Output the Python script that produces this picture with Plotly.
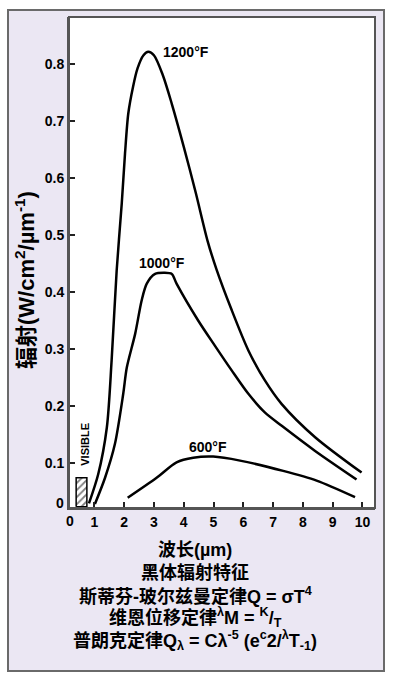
import plotly.graph_objects as go

# Data
x_1200 = [0.82, 1.13, 1.42, 1.58, 1.75, 1.92, 2.03, 2.14, 2.3, 2.45, 2.65, 2.81, 3.0, 3.3, 3.6, 4.0, 4.4, 4.8, 5.1, 5.6, 6.17, 6.73, 7.29, 8.41, 9.97]
y_1200 = [0.03, 0.081, 0.163, 0.28, 0.438, 0.555, 0.643, 0.713, 0.76, 0.792, 0.815, 0.821, 0.815, 0.78, 0.73, 0.655, 0.575, 0.49, 0.44, 0.37, 0.298, 0.245, 0.204, 0.146, 0.084]

x_1000 = [1.02, 1.36, 1.69, 1.97, 2.09, 2.37, 2.59, 2.76, 3.04, 3.35, 3.6, 3.76, 4.49, 5.05, 5.61, 6.17, 6.73, 7.29, 8.41, 9.8]
y_1000 = [0.029, 0.075, 0.134, 0.222, 0.268, 0.327, 0.386, 0.415, 0.432, 0.434, 0.432, 0.415, 0.35, 0.306, 0.263, 0.222, 0.189, 0.166, 0.122, 0.072]

x_600 = [2.12, 3.09, 3.76, 4.32, 4.99, 5.89, 7.34, 8.46, 9.75]
y_600 = [0.040, 0.075, 0.102, 0.110, 0.112, 0.105, 0.087, 0.070, 0.041]

curve_labels = ["1200°F", "1000°F", "600°F"]
label_x = [4.08, 3.26, 4.82]
label_y = [0.821, 0.451, 0.128]

visible_x = [0.39, 0.75]
visible_y = [0.024, 0.075]

x_tickvals = [1, 2, 3, 4, 5, 6, 7, 8, 9, 10]
x_ticktext = ["1", "2", "3", "4", "5", "6", "7", "8", "9", "10"]
x_zero_label = ("0", 0.2)
y_tickvals = [0.1, 0.2, 0.3, 0.4, 0.5, 0.6, 0.7, 0.8]
y_ticktext = ["0.1", "0.2", "0.3", "0.4", "0.5", "0.6", "0.7", "0.8"]
y_zero_label = ("0", 0.031)

caption_lines = [
    "波长(µm)",
    "黑体辐射特征",
    "斯蒂芬-玻尔兹曼定律Q = σT<sup>4</sup>",
    "维恩位移定律<sup>λ</sup>M = <sup>K</sup>/<sub>T</sub>",
    "普朗克定律Q<sub>λ</sub> = Cλ<sup>-5</sup> (e<sup>c</sup>2/<sup>λ</sup>T<sub>-1</sub>)",
]

FONT = "Liberation Sans, Arial, Noto Sans CJK SC, sans-serif"
TICKFONT = dict(size=14, color="black", family="Liberation Sans, Arial", weight="bold")
line_style = dict(color="black", width=2.5, shape="spline", smoothing=0.8)

W, H = 395, 679
L, R, T, B = 69, 20, 17, 171
pw, ph = W - L - R, H - T - B


def px(xp):
    return (xp - L) / pw


def py(yp):
    return (H - B - yp) / ph


fig = go.Figure()
for xs, ys in [(x_1200, y_1200), (x_1000, y_1000), (x_600, y_600)]:
    fig.add_trace(go.Scatter(x=xs, y=ys, mode="lines", line=line_style,
                             hoverinfo="skip", showlegend=False))

# hatched visible box
fig.add_trace(go.Scatter(
    x=[visible_x[0], visible_x[1], visible_x[1], visible_x[0], visible_x[0]],
    y=[visible_y[0], visible_y[0], visible_y[1], visible_y[1], visible_y[0]],
    mode="lines", fill="toself", fillcolor="white",
    fillpattern=dict(shape="/", fgcolor="black", bgcolor="white", size=5, solidity=0.35),
    line=dict(color="black", width=1.5), showlegend=False, hoverinfo="skip"))

for t, lx, ly in zip(curve_labels, label_x, label_y):
    fig.add_annotation(x=lx, y=ly, text="<b>%s</b>" % t, showarrow=False,
                       xanchor="center", yanchor="middle",
                       font=dict(size=14, color="black", family=FONT))

fig.add_annotation(x=0.69, y=0.133, text="<b>VISIBLE</b>", textangle=-90, showarrow=False,
                   xanchor="center", yanchor="middle",
                   font=dict(size=11, color="black", family=FONT))

# the two "0" labels (drawn without tick marks, as in the original)
fig.add_annotation(x=x_zero_label[1], xref="x", yref="paper", y=0, yshift=-3,
                   text=x_zero_label[0], showarrow=False, xanchor="center", yanchor="top",
                   font=TICKFONT)
fig.add_annotation(y=y_zero_label[1], yref="y", xref="paper", x=0, xshift=-3,
                   text=y_zero_label[0], showarrow=False, xanchor="right", yanchor="middle",
                   font=TICKFONT)

# caption
cap_y_px = [550, 573, 595, 617, 640]
for t, yp in zip(caption_lines, cap_y_px):
    fig.add_annotation(xref="paper", yref="paper", x=px(195), y=py(yp),
                       text="<b>%s</b>" % t, showarrow=False, xanchor="center", yanchor="middle",
                       font=dict(size=18, color="black", family=FONT))

# y axis title
fig.add_annotation(xref="paper", yref="paper", x=px(25), y=py(280),
                   text="<b>辐射(W/cm<sup>2</sup>/µm<sup>-1</sup>)</b>", textangle=-90,
                   xanchor="center", yanchor="middle",
                   showarrow=False, font=dict(size=22, color="black", family=FONT))

# white strips outside the lavender frame, and the frame border
fr_l, fr_r, fr_t, fr_b = 8, 384, 10, 671
strip = dict(type="rect", xref="paper", yref="paper", fillcolor="white",
             line=dict(width=0), layer="below")
fig.add_shape(x0=px(0), x1=px(fr_l), y0=py(H), y1=py(0), **strip)
fig.add_shape(x0=px(fr_r), x1=px(W), y0=py(H), y1=py(0), **strip)
fig.add_shape(x0=px(0), x1=px(W), y0=py(fr_t), y1=py(0), **strip)
fig.add_shape(x0=px(0), x1=px(W), y0=py(H), y1=py(fr_b), **strip)
fig.add_shape(type="rect", xref="paper", yref="paper",
              x0=px(fr_l), x1=px(fr_r), y0=py(fr_b), y1=py(fr_t),
              line=dict(color="#6a6a6a", width=2), layer="below")

axis_common = dict(showgrid=False, zeroline=False, showline=True, mirror=False,
                   linecolor="#555555", linewidth=2,
                   ticks="inside", ticklen=6, tickwidth=2, tickcolor="#222",
                   tickfont=TICKFONT)
fig.update_xaxes(range=[0.15, 10.42], tickvals=x_tickvals, ticktext=x_ticktext, **axis_common)
fig.update_yaxes(range=[0.022, 0.882], tickvals=y_tickvals, ticktext=y_ticktext, **axis_common)
# box border on the other two sides
fig.add_shape(type="rect", xref="paper", yref="paper", x0=0, x1=1, y0=0, y1=1,
              line=dict(color="#555555", width=2), layer="above")
fig.update_layout(width=W, height=H, margin=dict(l=L, r=R, t=T, b=B, autoexpand=False),
                  paper_bgcolor="#ebe7f3", plot_bgcolor="white",
                  font=dict(family=FONT, color="black"))

fig.write_html("out.html", config={"displayModeBar": False},
               post_script="document.body.style.margin='0';document.body.style.overflow='hidden';")
